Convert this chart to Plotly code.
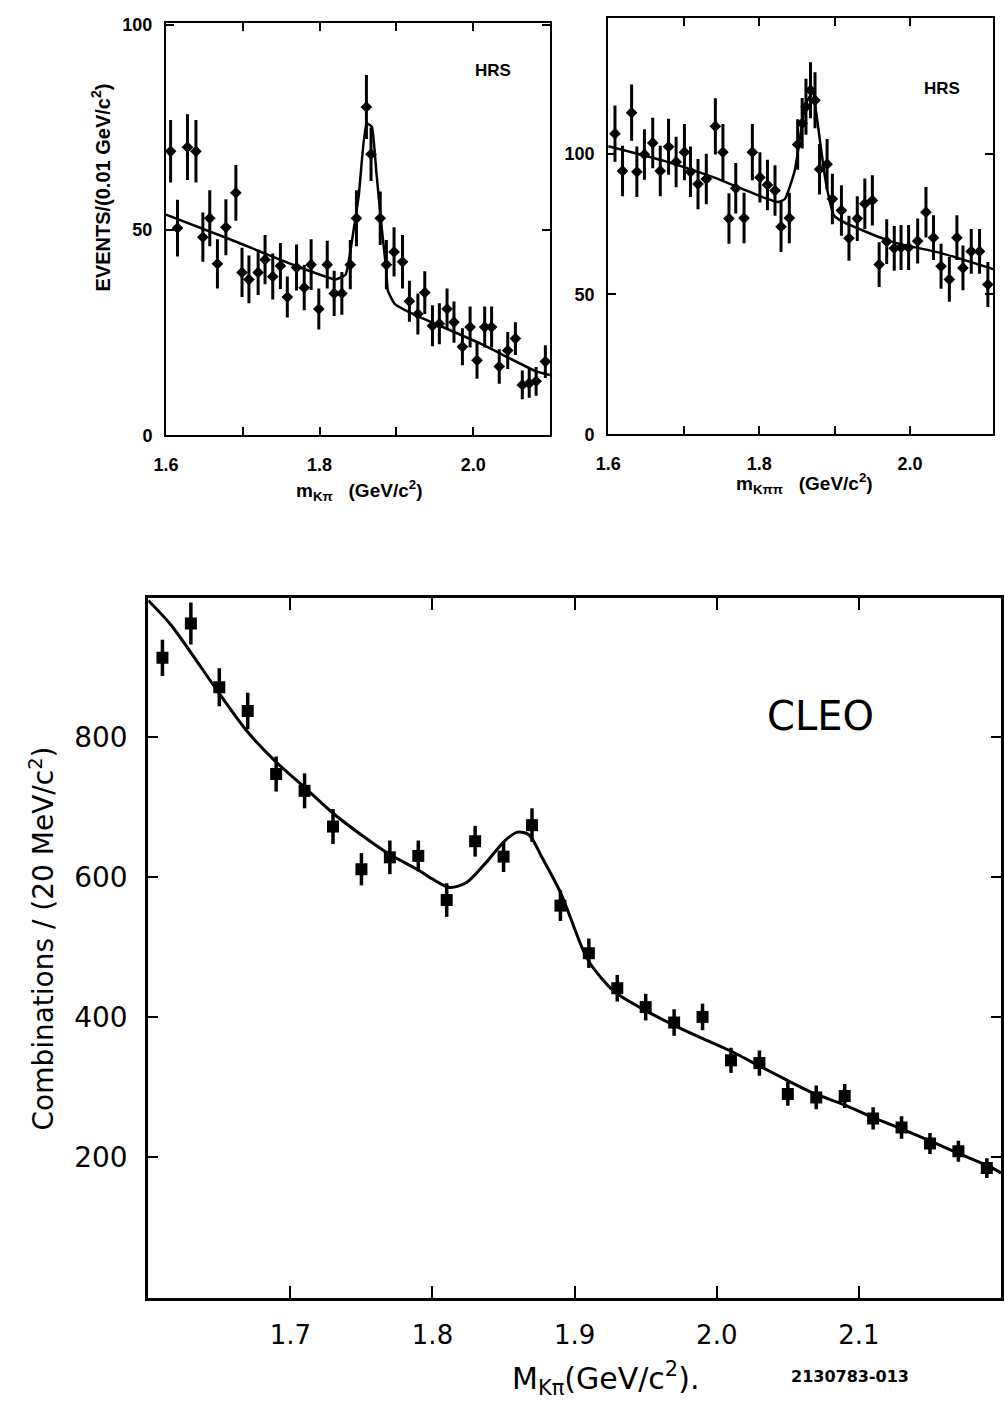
import plotly.graph_objects as go

W, H = 1004, 1408

# ---------------- top-left panel (HRS, m_Kpi) ----------------
tl_x = [1.606, 1.615, 1.628, 1.639, 1.648, 1.657, 1.667, 1.678, 1.691, 1.699,
        1.708, 1.720, 1.729, 1.739, 1.749, 1.758, 1.770, 1.780, 1.789, 1.799,
        1.810, 1.819, 1.829, 1.840, 1.848, 1.861, 1.867, 1.879, 1.887, 1.897,
        1.908, 1.917, 1.928, 1.937, 1.947, 1.956, 1.966, 1.975, 1.986, 1.996,
        2.005, 2.015, 2.024, 2.034, 2.045, 2.055, 2.064, 2.073, 2.082, 2.094]
tl_y = [69.2, 50.5, 70.2, 69.2, 48.3, 52.9, 41.8, 50.7, 59.1, 39.7,
        38.0, 39.7, 42.8, 38.7, 41.3, 33.7, 40.9, 36.0, 41.6, 30.8,
        41.6, 34.6, 34.6, 41.6, 52.9, 80.0, 68.5, 52.9, 41.6, 44.7,
        42.3, 32.7, 29.6, 34.8, 26.7, 27.2, 30.8, 27.6, 21.6, 26.4,
        18.3, 26.4, 26.4, 16.8, 20.7, 23.6, 12.3, 12.7, 13.2, 18.0]
tl_err = [7.6, 6.9, 8.0, 7.6, 6.0, 6.8, 6.0, 6.8, 6.8, 6.0,
          5.8, 5.5, 6.0, 5.6, 5.6, 5.0, 5.6, 5.5, 6.2, 5.0,
          5.8, 5.5, 5.2, 6.0, 6.8, 7.8, 6.5, 6.5, 6.0, 6.0,
          6.5, 5.0, 5.0, 5.2, 5.0, 5.0, 5.0, 5.0, 4.5, 5.0,
          4.5, 5.0, 5.0, 4.2, 4.5, 4.0, 3.5, 3.5, 3.5, 4.0]
tl_fit_x = [1.600, 1.679, 1.765, 1.821, 1.834, 1.842, 1.851, 1.861, 1.868,
            1.874, 1.881, 1.887, 1.889, 1.898, 1.917, 2.009, 2.082, 2.100]
tl_fit_y = [53.8, 48.1, 41.6, 38.0, 39.2, 47.2, 58.4, 76.0, 75.2,
            64.0, 50.4, 40.0, 35.2, 32.0, 30.0, 22.4, 15.6, 14.7]

# ---------------- top-right panel (HRS, m_Kpipi) ----------------
tr_x = [1.609, 1.619, 1.631, 1.638, 1.648, 1.659, 1.669, 1.680, 1.690, 1.701,
        1.709, 1.719, 1.730, 1.742, 1.752, 1.760, 1.769, 1.780, 1.791, 1.801,
        1.811, 1.821, 1.829, 1.840, 1.851, 1.857, 1.862, 1.868, 1.874, 1.880,
        1.890, 1.897, 1.909, 1.919, 1.930, 1.940, 1.950, 1.959, 1.969, 1.979,
        1.988, 1.998, 2.010, 2.021, 2.031, 2.041, 2.052, 2.062, 2.070, 2.081,
        2.092, 2.103]
tr_y = [107.3, 94.0, 114.8, 93.7, 99.9, 104.0, 94.0, 102.6, 97.2, 100.7,
        93.7, 89.3, 91.1, 109.9, 100.7, 77.0, 87.8, 77.2, 100.7, 91.7,
        89.0, 87.0, 74.1, 77.2, 103.4, 111.0, 116.9, 122.8, 119.2, 94.6,
        96.4, 84.0, 79.9, 70.0, 77.0, 82.3, 83.5, 60.6, 68.8, 66.4,
        66.7, 66.7, 69.0, 79.3, 70.2, 60.0, 55.3, 70.2, 59.4, 65.3,
        65.3, 53.5]
tr_err = [10, 9, 10, 9, 9, 9, 9, 10, 9, 10,
          9, 9, 9, 10, 10, 9, 9, 9, 10, 9,
          9, 9, 9, 9, 9, 9, 10, 10, 10, 9,
          9, 9, 9, 8, 8, 9, 9, 8, 8, 8,
          8, 8, 8, 9, 8, 8, 8, 8, 8, 8,
          8, 8]
tr_fit_x = [1.600, 1.675, 1.740, 1.805, 1.825, 1.834, 1.847, 1.855, 1.862,
            1.871, 1.877, 1.886, 1.890, 1.899, 1.910, 1.975, 2.041, 2.110]
tr_fit_y = [102.8, 97.5, 91.7, 84.6, 82.9, 84.0, 94.0, 107.5, 118.0,
            122.0, 112.0, 94.0, 87.6, 78.2, 76.0, 68.8, 64.7, 59.0]

# ---------------- bottom panel (CLEO) ----------------
b_x = [1.61, 1.63, 1.65, 1.67, 1.69, 1.71, 1.73, 1.75, 1.77, 1.79,
       1.81, 1.83, 1.85, 1.87, 1.89, 1.91, 1.93, 1.95, 1.97, 1.99,
       2.01, 2.03, 2.05, 2.07, 2.09, 2.11, 2.13, 2.15, 2.17, 2.19]
b_y = [913, 962, 871, 837, 747, 723, 672, 611, 628, 630,
       567, 651, 629, 674, 559, 491, 441, 414, 392, 400,
       338, 334, 290, 285, 287, 255, 242, 219, 208, 184]
b_err = [26, 30, 27, 26, 25, 25, 25, 23, 24, 22,
         24, 22, 22, 24, 22, 21, 19, 19, 19, 19,
         18, 18, 17, 17, 17, 16, 16, 15, 15, 14]
b_fit_x = [1.600, 1.616, 1.650, 1.670, 1.690, 1.710, 1.730, 1.750, 1.770,
           1.790, 1.800, 1.812, 1.824, 1.837, 1.851, 1.860, 1.868, 1.877,
           1.890, 1.905, 1.911, 1.928, 1.949, 1.969, 1.989, 2.009, 2.029,
           2.049, 2.068, 2.089, 2.110, 2.130, 2.150, 2.170, 2.192, 2.200]
b_fit_y = [995, 960, 862, 807, 764, 728, 691, 660, 632,
           610, 597, 585, 592, 619, 652, 664, 660, 628,
           578, 500, 476, 436, 410, 389, 370, 352, 331,
           310, 291, 275, 256, 240, 223, 205, 186, 177]

tl_xticks = [1.6, 1.7, 1.8, 1.9, 2.0]
tl_xlabels = ["1.6", "", "1.8", "", "2.0"]
tl_yticks = [0, 50, 100]
tr_xticks = [1.6, 1.7, 1.8, 1.9, 2.0]
tr_xlabels = ["1.6", "", "1.8", "", "2.0"]
tr_yticks = [0, 50, 100]
b_xticks = [1.7, 1.8, 1.9, 2.0, 2.1]
b_xlabels = ["1.7", "1.8", "1.9", "2.0", "2.1"]
b_yticks = [200, 400, 600, 800]
b_ylabels = ["200", "400", "600", "800"]

def px(x):
    return x / W

def py(y):
    return 1 - y / H

fig = go.Figure()

def pts(x, y, err, ax, symbol, size, thick):
    fig.add_trace(go.Scatter(
        x=x, y=y, mode="markers", xaxis=ax[0], yaxis=ax[1],
        marker=dict(symbol=symbol, size=size, color="black"),
        error_y=dict(type="data", array=err, thickness=thick, width=0, color="black"),
        showlegend=False, hoverinfo="skip"))

def fit(x, y, ax, w, smooth):
    fig.add_trace(go.Scatter(
        x=x, y=y, mode="lines", xaxis=ax[0], yaxis=ax[1],
        line=dict(color="black", width=w, shape="spline", smoothing=smooth),
        showlegend=False, hoverinfo="skip"))

fit(tl_fit_x, tl_fit_y, ("x", "y"), 2.5, 0.4)
pts(tl_x, tl_y, tl_err, ("x", "y"), "diamond", 9, 3)
fit(tr_fit_x, tr_fit_y, ("x2", "y2"), 2.5, 0.5)
pts(tr_x, tr_y, tr_err, ("x2", "y2"), "diamond", 9, 3)
fit(b_fit_x, b_fit_y, ("x3", "y3"), 3, 0.8)
pts(b_x, b_y, b_err, ("x3", "y3"), "square", 12, 3.5)

SANS = "Liberation Sans, Arial, sans-serif"
DEJA = "DejaVu Sans, Verdana, sans-serif"
small_font = dict(family=SANS, size=18, color="black", weight="bold")
bx_font = dict(family=DEJA, size=26, color="black")
by_font = dict(family=DEJA, size=28, color="black")

axis_common = dict(showline=True, linecolor="black", mirror="allticks", ticks="inside",
                   tickcolor="black", showgrid=False, zeroline=False, fixedrange=True)

fig.update_layout(
    width=W, height=H, margin=dict(l=0, r=0, t=0, b=0),
    paper_bgcolor="white", plot_bgcolor="white",
    xaxis=dict(domain=[px(155), px(544)], range=[1.6, 2.1], anchor="y",
               tickvals=tl_xticks, ticktext=tl_xlabels, tickfont=small_font,
               linewidth=2, tickwidth=2, ticklen=8, ticklabelstandoff=12, **axis_common),
    yaxis=dict(domain=[py(433), py(15)], range=[0, 100.5], anchor="x",
               tickvals=tl_yticks, tickfont=small_font,
               linewidth=2, tickwidth=2, ticklen=8, ticklabelstandoff=8, **axis_common),
    xaxis2=dict(domain=[px(603), px(993)], range=[1.6, 2.11], anchor="y2",
                tickvals=tr_xticks, ticktext=tr_xlabels, tickfont=small_font,
                linewidth=2, tickwidth=2, ticklen=8, ticklabelstandoff=12, **axis_common),
    yaxis2=dict(domain=[py(432), py(10)], range=[0, 148.6], anchor="x2",
                tickvals=tr_yticks, tickfont=small_font,
                linewidth=2, tickwidth=2, ticklen=8, ticklabelstandoff=8, **axis_common),
    xaxis3=dict(domain=[px(137), px(1001)], range=[1.6, 2.2], anchor="y3",
                tickvals=b_xticks, ticktext=b_xlabels, tickfont=bx_font,
                linewidth=3, tickwidth=2, ticklen=12, ticklabelstandoff=12, **axis_common),
    yaxis3=dict(domain=[py(1307), py(598)], range=[-2, 998], anchor="x3",
                tickvals=b_yticks, ticktext=b_ylabels, tickfont=by_font,
                linewidth=3, tickwidth=2, ticklen=10, ticklabelstandoff=12, **axis_common),
)

def note(text, x, y, size, family=SANS, bold=True, angle=0):
    fig.add_annotation(text=text, x=px(x), y=py(y), xref="paper", yref="paper",
                       showarrow=False, textangle=angle, xanchor="center", yanchor="middle",
                       font=dict(family=family, size=size, color="black",
                                 weight="bold" if bold else "normal"))

note("HRS", 486, 63, 17)
note("HRS", 941, 82, 17)
note("EVENTS/(0.01 GeV/c<sup>2</sup>)", 89, 182, 20, angle=-90)
note("m<sub>Kπ</sub>   (GeV/c<sup>2</sup>)", 351, 489, 19)
note("m<sub>Kππ</sub>   (GeV/c<sup>2</sup>)", 802, 482, 19)
note("CLEO", 818, 717, 40, family=DEJA, bold=False)
note("Combinations / (20 MeV/c<sup>2</sup>)", 30, 943, 28, family=DEJA, bold=False, angle=-90)
note("M<sub>Kπ</sub>(GeV/c<sup>2</sup>).", 600, 1388, 30, family=DEJA, bold=False)
note("2130783-013", 848, 1386, 16, family=DEJA)

fig.write_html("out.html")
